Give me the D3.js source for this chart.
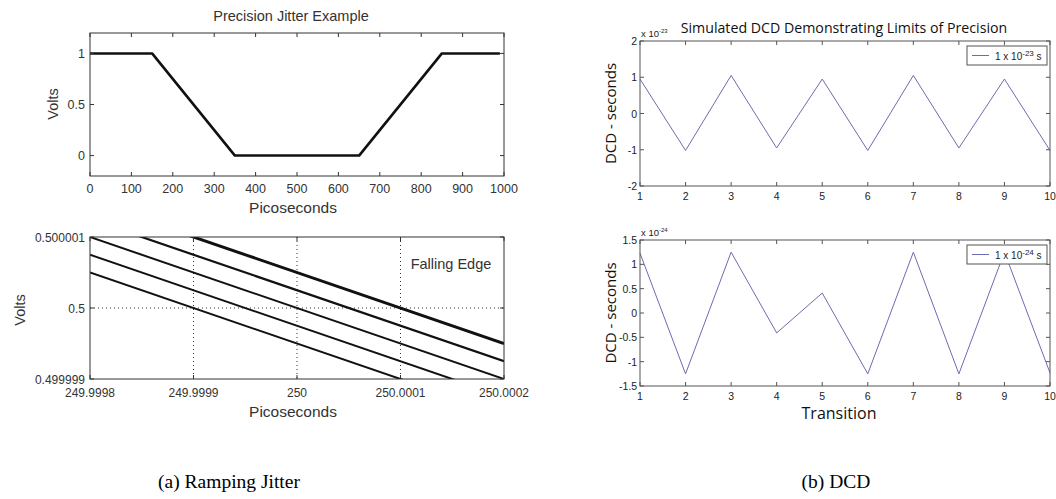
<!DOCTYPE html>
<html>
<head>
<meta charset="utf-8">
<script src="https://cdn.jsdelivr.net/npm/d3@7"></script>
<style>
  body { margin: 0; background: #fff; }
  svg { display: block; }
</style>
</head>
<body>
<svg id="fig" width="1056" height="499"></svg>
<script>
// ---- data ----
// (a) top: one period of the ramp waveform
var rampTime = [0, 150, 350, 650, 850, 990];
var rampVolts = [1, 1, 0, 0, 1, 1];
var rampXTicks = [0, 100, 200, 300, 400, 500, 600, 700, 800, 900, 1000];
var rampYTicks = [0, 0.5, 1];

// (a) bottom: zoom on the falling edge, five jittered edges
var edgeTimes = [249.9998, 250.0002];
var edgeStartVolts = [0.5000005, 0.50000075, 0.500001, 0.50000125, 0.5000015];
var edgeEndVolts = [0.4999985, 0.49999875, 0.499999, 0.49999925, 0.4999995];
var edgeXTicks = [249.9998, 249.9999, 250, 250.0001, 250.0002];
var edgeXLabels = ["249.9998", "249.9999", "250", "250.0001", "250.0002"];
var edgeYTicks = [0.499999, 0.5, 0.500001];
var edgeYLabels = ["0.499999", "0.5", "0.500001"];

// (b) DCD per transition
var transitions = [1, 2, 3, 4, 5, 6, 7, 8, 9, 10];
var dcd23 = [0.95, -1.02, 1.05, -0.95, 0.95, -1.02, 1.05, -0.95, 0.95, -1.02];
var dcd24 = [1.23, -1.25, 1.25, -0.41, 0.41, -1.25, 1.25, -1.25, 1.25, -1.23];
var dcd23YTicks = [-2, -1, 0, 1, 2];
var dcd24YTicks = [-1.5, -1, -0.5, 0, 0.5, 1, 1.5];

var svg = d3.select("#fig");
var leftFont = "'Liberation Sans', Arial, sans-serif";
var rightFont = "'Open Sans', 'Noto Sans', sans-serif";

// draws a matlab style box with inward ticks on all four sides
function drawBox(g, x, y, xticks, yticks, tickLen, color) {
  var x0 = x.range()[0], x1 = x.range()[1];
  var y0 = y.range()[0], y1 = y.range()[1];
  g.append("rect")
    .attr("x", x0).attr("y", y1)
    .attr("width", x1 - x0).attr("height", y0 - y1)
    .attr("fill", "none").attr("stroke", color).attr("stroke-width", 1);
  xticks.forEach(function(t) {
    var px = x(t);
    g.append("line").attr("x1", px).attr("x2", px).attr("y1", y0).attr("y2", y0 - tickLen).attr("stroke", color);
    g.append("line").attr("x1", px).attr("x2", px).attr("y1", y1).attr("y2", y1 + tickLen).attr("stroke", color);
  });
  yticks.forEach(function(t) {
    var py = y(t);
    g.append("line").attr("x1", x0).attr("x2", x0 + tickLen).attr("y1", py).attr("y2", py).attr("stroke", color);
    g.append("line").attr("x1", x1).attr("x2", x1 - tickLen).attr("y1", py).attr("y2", py).attr("stroke", color);
  });
}

// ================= (a) top =================
var gA = svg.append("g");
var xA = d3.scaleLinear().domain([0, 1000]).range([90, 504]);
var yA = d3.scaleLinear().domain([-0.2, 1.2]).range([176, 33]);

gA.append("path")
  .datum(rampTime.map(function(t, i) { return [t, rampVolts[i]]; }))
  .attr("d", d3.line().x(function(d) { return xA(d[0]); }).y(function(d) { return yA(d[1]); }))
  .attr("fill", "none").attr("stroke", "#111").attr("stroke-width", 2.6)
  .attr("stroke-linejoin", "round");

drawBox(gA, xA, yA, rampXTicks, rampYTicks, 4, "#333");

gA.selectAll("text.xt").data(rampXTicks).enter().append("text")
  .attr("x", function(d) { return xA(d); }).attr("y", 193)
  .attr("text-anchor", "middle")
  .style("font", "12.5px " + leftFont).attr("fill", "#333")
  .text(function(d) { return d; });
gA.selectAll("text.yt").data(rampYTicks).enter().append("text")
  .attr("x", 85).attr("y", function(d) { return yA(d) + 4.5; })
  .attr("text-anchor", "end")
  .style("font", "12.5px " + leftFont).attr("fill", "#333")
  .text(function(d) { return d; });

gA.append("text").attr("x", 291).attr("y", 21).attr("text-anchor", "middle")
  .style("font", "14.5px " + leftFont).attr("fill", "#333").text("Precision Jitter Example");
gA.append("text").attr("x", 293).attr("y", 213).attr("text-anchor", "middle")
  .style("font", "15.5px " + leftFont).attr("fill", "#333").text("Picoseconds");
gA.append("text").attr("transform", "translate(58,104) rotate(-90)").attr("text-anchor", "middle")
  .style("font", "14.5px " + leftFont).attr("fill", "#333").text("Volts");

// ================= (a) bottom =================
var gB = svg.append("g");
var xB = d3.scaleLinear().domain([249.9998, 250.0002]).range([90, 504]);
var yB = d3.scaleLinear().domain([0.499999, 0.500001]).range([379, 237]);

svg.append("clipPath").attr("id", "clipB").append("rect")
  .attr("x", 90).attr("y", 237).attr("width", 414).attr("height", 142);

// dotted grid
edgeXTicks.slice(1, -1).forEach(function(t) {
  gB.append("line").attr("x1", xB(t)).attr("x2", xB(t)).attr("y1", 237).attr("y2", 379)
    .attr("stroke", "#333").attr("stroke-dasharray", "1,3");
});
gB.append("line").attr("x1", 90).attr("x2", 504).attr("y1", yB(0.5)).attr("y2", yB(0.5))
  .attr("stroke", "#333").attr("stroke-dasharray", "1,3");

var edgeWidths = [2, 2, 2, 2.2, 3];
edgeStartVolts.forEach(function(v, i) {
  gB.append("line")
    .attr("clip-path", "url(#clipB)")
    .attr("x1", xB(edgeTimes[0])).attr("y1", yB(v))
    .attr("x2", xB(edgeTimes[1])).attr("y2", yB(edgeEndVolts[i]))
    .attr("stroke", "#111").attr("stroke-width", edgeWidths[i]);
});

drawBox(gB, xB, yB, edgeXTicks, edgeYTicks, 4, "#333");

gB.selectAll("text.xt").data(edgeXTicks).enter().append("text")
  .attr("x", function(d) { return xB(d); }).attr("y", 397)
  .attr("text-anchor", "middle")
  .style("font", "12px " + leftFont).attr("fill", "#333")
  .text(function(d, i) { return edgeXLabels[i]; });
gB.selectAll("text.yt").data(edgeYTicks).enter().append("text")
  .attr("x", 85).attr("y", function(d) { return yB(d) + 4.5; })
  .attr("text-anchor", "end")
  .style("font", "12px " + leftFont).attr("fill", "#333")
  .text(function(d, i) { return edgeYLabels[i]; });

gB.append("text").attr("x", 451).attr("y", 269).attr("text-anchor", "middle")
  .style("font", "14.5px " + leftFont).attr("fill", "#333").text("Falling Edge");
gB.append("text").attr("x", 293).attr("y", 417).attr("text-anchor", "middle")
  .style("font", "15.5px " + leftFont).attr("fill", "#333").text("Picoseconds");
gB.append("text").attr("transform", "translate(25,310) rotate(-90)").attr("text-anchor", "middle")
  .style("font", "14.5px " + leftFont).attr("fill", "#333").text("Volts");

// ================= (b) DCD panels =================
function dcdPanel(values, yDomain, yTicks, top, bottom, expo, legendY) {
  var g = svg.append("g");
  var x = d3.scaleLinear().domain([1, 10]).range([640, 1050]);
  var y = d3.scaleLinear().domain(yDomain).range([bottom, top]);

  g.append("path")
    .datum(values)
    .attr("d", d3.line().x(function(d, i) { return x(transitions[i]); }).y(function(d) { return y(d); }))
    .attr("fill", "none").attr("stroke", "#6c6cb0").attr("stroke-width", 1);

  drawBox(g, x, y, transitions, yTicks, 4, "#555");

  g.selectAll("text.xt").data(transitions).enter().append("text")
    .attr("x", function(d) { return x(d); }).attr("y", bottom + 14)
    .attr("text-anchor", "middle")
    .style("font", "10.5px " + leftFont).attr("fill", "#222")
    .text(function(d) { return d; });
  g.selectAll("text.yt").data(yTicks).enter().append("text")
    .attr("x", 637).attr("y", function(d) { return y(d) + 4; })
    .attr("text-anchor", "end")
    .style("font", "10.5px " + leftFont).attr("fill", "#222")
    .text(function(d) { return d; });

  // exponent label above the axis
  var ex = g.append("text").attr("x", 641).attr("y", top - 4)
    .style("font", "9.5px " + leftFont).attr("fill", "#222");
  ex.append("tspan").text("x 10");
  ex.append("tspan").attr("dy", -4).style("font-size", "6px").text(expo);

  // legend
  var lx = 967, lw = 80, lh = 19;
  g.append("rect").attr("x", lx).attr("y", legendY).attr("width", lw).attr("height", lh)
    .attr("fill", "#fff").attr("stroke", "#555");
  g.append("line").attr("x1", lx + 5).attr("x2", lx + 22)
    .attr("y1", legendY + lh / 2).attr("y2", legendY + lh / 2)
    .attr("stroke", "#6c6cb0");
  var lt = g.append("text").attr("x", lx + 28).attr("y", legendY + 14)
    .style("font", "10px " + leftFont).attr("fill", "#222");
  lt.append("tspan").text("1 x 10");
  lt.append("tspan").attr("dy", -4).style("font-size", "8px").text(expo);
  lt.append("tspan").attr("dy", 4).text(" s");

  g.append("text").attr("transform", "translate(616," + ((top + bottom) / 2) + ") rotate(-90)")
    .attr("text-anchor", "middle")
    .style("font", "15px " + rightFont).attr("fill", "#111").text("DCD - seconds");
  return g;
}

dcdPanel(dcd23, [-2, 2], dcd23YTicks, 41, 186, "-23", 46);
var gD = dcdPanel(dcd24, [-1.5, 1.5], dcd24YTicks, 240, 386, "-24", 245);

svg.append("text").attr("x", 844).attr("y", 33).attr("text-anchor", "middle")
  .style("font", "14.2px " + rightFont).attr("fill", "#111")
  .text("Simulated DCD Demonstrating Limits of Precision");
gD.append("text").attr("x", 839).attr("y", 419).attr("text-anchor", "middle")
  .style("font", "16px " + rightFont).attr("fill", "#111").text("Transition");

// ---- captions ----
svg.append("text").attr("x", 229).attr("y", 488).attr("text-anchor", "middle")
  .style("font", "19.5px 'Liberation Serif', 'DejaVu Serif', serif").attr("fill", "#000")
  .text("(a) Ramping Jitter");
svg.append("text").attr("x", 836).attr("y", 488).attr("text-anchor", "middle")
  .style("font", "19.5px 'Liberation Serif', 'DejaVu Serif', serif").attr("fill", "#000")
  .text("(b) DCD");
</script>
</body>
</html>
